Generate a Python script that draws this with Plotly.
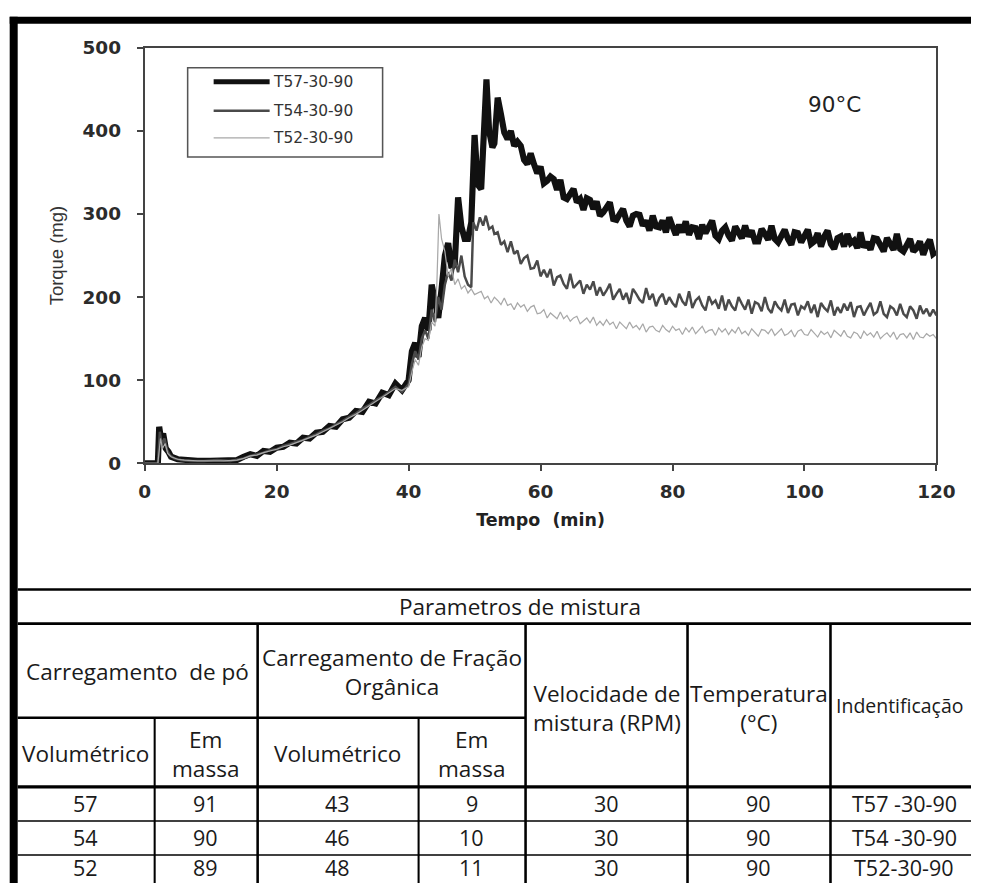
import numpy as np
import plotly.graph_objects as go

# Target picture is 981x886. The page body keeps the browser's default 8px margin and the
# captured picture comes out at ~0.975 of page pixels (with a small shift), so positions given
# below in picture pixels are converted to figure fractions with that in mind.
PIC_W, PIC_H = 981, 886
SC = 0.975
K = 1 / SC
BX, BY = -2.5, 3.5
OFF = 8
W = int(round(PIC_W * K)) - 2 * OFF
H = int(round(PIC_H * K)) - 2 * OFF


def px(x):
    return ((x - BX) * K - OFF) / W


def py(y):
    return 1 - ((y - BY) * K - OFF) / H


def s(v):
    return v * K


# ---------------- chart data (Tempo in min, Torque in mg) ----------------
series_names = ["T57-30-90", "T54-30-90", "T52-30-90"]

t57_early = [0, 1, 2, 2.2, 2.5, 2.8, 3.2, 3.6, 4, 5, 6, 8, 10, 12, 14, 15,
             16, 17, 18, 19, 20, 21, 22, 23, 24, 25, 26, 27, 28, 29, 30, 31, 32, 33, 34, 35, 36, 37, 38, 39, 40,
             40.5, 41, 41.5, 42, 42.5, 43, 43.5, 44, 44.5, 45, 45.5, 46, 46.5, 47, 47.5, 48, 48.5, 49, 49.5, 50,
             50.5, 51, 51.5, 51.8, 52.2, 52.7, 53, 53.5, 54, 54.5, 55]
v57_early = [0, 0, 0, 44, 28, 36, 18, 14, 8, 5, 4, 3, 3, 4, 4, 8,
             11, 9, 15, 14, 19, 20, 25, 24, 31, 30, 37, 38, 45, 44, 53, 55, 63, 62, 74, 72, 85, 82, 96, 88, 100,
             135, 145, 128, 165, 175, 160, 215, 190, 175, 210, 250, 265, 235, 240, 320, 285, 270, 270, 290, 395,
             335, 330, 420, 462, 400, 380, 385, 440, 420, 398, 390]
t57_tail_range = [55.5, 120]
v57_tail = [400, 382, 387, 382, 365, 360, 373, 360, 349, 357, 337, 340, 345, 342, 329, 341, 320, 318, 326, 330,
            314, 318, 305, 319, 317, 306, 315, 298, 302, 308, 314, 294, 293, 300, 306, 292, 285, 298, 300, 299,
            286, 292, 280, 298, 285, 284, 292, 278, 296, 285, 275, 287, 278, 291, 275, 284, 283, 270, 287, 277,
            284, 292, 274, 270, 280, 284, 274, 268, 285, 278, 271, 286, 273, 280, 267, 267, 282, 276, 269, 286,
            270, 266, 276, 281, 270, 263, 278, 277, 266, 272, 281, 264, 267, 277, 261, 273, 280, 264, 258, 271,
            273, 261, 276, 265, 268, 259, 278, 260, 266, 257, 271, 270, 261, 255, 271, 265, 257, 276, 258, 255,
            265, 270, 255, 259, 267, 251, 262, 269, 252, 255]

t54_early = [0, 1, 2, 2.3, 2.6, 3, 3.4, 3.8, 4.5, 5.5, 7, 9, 11, 13, 15,
             16, 17, 18, 19, 20, 21, 22, 23, 24, 25, 26, 27, 28, 29, 30, 31, 32, 33, 34, 35, 36, 37, 38, 39, 40,
             40.5, 41, 41.5, 42, 42.5, 43, 43.5, 44, 44.5, 45, 45.5, 46, 46.5, 47, 47.5, 48, 48.5, 49, 49.5,
             49.8, 50.3, 50.8, 51.3, 51.7, 52.2, 52.7]
v54_early = [0, 0, 0, 38, 22, 30, 16, 10, 6, 4, 3, 3, 4, 3, 6,
             9, 11, 13, 16, 17, 21, 23, 26, 28, 32, 35, 39, 42, 47, 51, 56, 60, 66, 70, 76, 80, 86, 92, 86, 95,
             120, 135, 125, 150, 160, 150, 185, 170, 200, 185, 215, 230, 220, 245, 230, 250, 225, 215, 212,
             290, 280, 296, 286, 298, 282, 285]
t54_tail_range = [53, 120]
v54_tail = [276, 278, 263, 267, 254, 267, 252, 256, 240, 247, 250, 234, 235, 244, 225, 233, 224, 234, 214, 224,
            226, 216, 210, 228, 211, 215, 220, 204, 215, 209, 219, 202, 212, 202, 208, 216, 197, 204, 210, 197,
            205, 192, 210, 204, 197, 193, 211, 197, 204, 189, 199, 204, 191, 200, 193, 188, 204, 195, 190, 207,
            187, 196, 200, 190, 184, 201, 192, 196, 186, 202, 184, 197, 189, 184, 200, 192, 185, 197, 180, 194,
            192, 183, 200, 186, 181, 195, 188, 184, 197, 181, 191, 192, 178, 189, 186, 195, 181, 191, 176, 193,
            187, 183, 196, 178, 188, 181, 192, 184, 194, 176, 188, 189, 178, 186, 193, 179, 182, 195, 180, 176,
            189, 186, 178, 192, 180, 176, 189, 184, 174, 190, 180, 186, 177, 185, 178]

t52_early = [0, 1, 2, 2.4, 2.7, 3.1, 3.5, 4, 5, 6, 8, 10, 12, 14, 15,
             16, 17, 18, 19, 20, 21, 22, 23, 24, 25, 26, 27, 28, 29, 30, 31, 32, 33, 34, 35, 36, 37, 38, 39, 40,
             40.5, 41, 41.5, 42, 42.5, 43, 43.5, 44, 44.3, 44.6, 45, 45.5, 46, 46.5, 47, 47.5, 48, 48.5, 49,
             49.5, 50]
v52_early = [0, 0, 0, 30, 18, 24, 12, 8, 5, 4, 3, 3, 3, 4, 6,
             9, 10, 13, 15, 17, 20, 22, 25, 28, 31, 34, 38, 42, 46, 50, 55, 59, 64, 69, 74, 79, 85, 90, 88, 92,
             110, 125, 118, 140, 150, 148, 170, 165, 220, 300, 270, 255, 225, 235, 215, 222, 210, 214, 205,
             210, 203]
t52_tail_range = [50.5, 120]
v52_tail = [205, 207, 198, 201, 193, 200, 196, 191, 199, 190, 192, 185, 193, 188, 191, 183, 188, 190, 180, 181,
            185, 175, 181, 178, 174, 182, 174, 178, 171, 175, 177, 168, 172, 175, 169, 176, 166, 171, 166, 173,
            167, 170, 162, 170, 166, 162, 170, 163, 166, 161, 168, 158, 164, 165, 160, 158, 166, 161, 158, 165,
            160, 162, 155, 163, 158, 164, 156, 161, 165, 157, 160, 161, 154, 163, 158, 162, 155, 161, 157, 164,
            156, 159, 154, 162, 158, 153, 161, 160, 156, 162, 154, 158, 162, 154, 156, 160, 152, 159, 161, 155,
            154, 161, 156, 152, 159, 155, 158, 151, 160, 157, 153, 160, 153, 151, 158, 156, 150, 159, 154, 157,
            152, 159, 150, 154, 157, 152, 158, 149, 155, 156, 151, 157, 149, 158, 152, 151, 156, 153, 155, 150]

x_ticks = [0, 20, 40, 60, 80, 100, 120]
y_ticks = [0, 100, 200, 300, 400, 500]

# ---------------- table data ----------------
table_title = "Parametros de mistura"
group_po = "Carregamento  de pó"
group_org = "Carregamento de Fração<br>Orgânica"
sub_headers = ["Volumétrico", "Em<br>massa", "Volumétrico", "Em<br>massa"]
head_rpm = "Velocidade de<br>mistura (RPM)"
head_temp = "Temperatura<br>(°C)"
head_id = "Indentificação"
vol_po = [57, 54, 52]
massa_po = [91, 90, 89]
vol_org = [43, 46, 48]
massa_org = [9, 10, 11]
rpm = [30, 30, 30]
temperatura = [90, 90, 90]
identificacao = ["T57 -30-90", "T54 -30-90", "T52-30-90"]


def full_series(t_early, v_early, tail_range, v_tail):
    t_tail = np.linspace(tail_range[0], tail_range[1], len(v_tail))
    return list(t_early) + list(t_tail), list(v_early) + list(v_tail)


t57, v57 = full_series(t57_early, v57_early, t57_tail_range, v57_tail)
t54, v54 = full_series(t54_early, v54_early, t54_tail_range, v54_tail)
t52, v52 = full_series(t52_early, v52_early, t52_tail_range, v52_tail)

styles = [("#111111", 6), ("#4a4a4a", 2.4), ("#a8a8a8", 1.2)]

fig = go.Figure()
for name, (t, v), (col, wd) in zip(series_names, [(t57, v57), (t54, v54), (t52, v52)], styles):
    fig.add_trace(go.Scatter(x=t, y=v, mode="lines", name=name, showlegend=False,
                             line=dict(color=col, width=s(wd))))

axis_font = dict(family="DejaVu Sans, sans-serif", size=s(18), color="#2b2b2b", weight="bold")

fig.update_layout(
    width=W, height=H,
    margin=dict(l=0, r=0, t=0, b=0),
    paper_bgcolor="white", plot_bgcolor="white",
    xaxis=dict(domain=[px(144), px(936)], range=[0, 120], tickvals=x_ticks,
               ticks="outside", ticklen=s(6), tickwidth=s(1.5), tickcolor="#444",
               showline=True, linecolor="#444", linewidth=s(1.5), mirror=True,
               showgrid=False, zeroline=False, tickfont=axis_font, ticklabelstandoff=int(round(s(5))),
               title=dict(text="Tempo  (min)", standoff=s(12),
                          font=dict(family="DejaVu Sans, sans-serif", size=s(17),
                                    color="#222", weight="bold"))),
    yaxis=dict(domain=[py(463), py(48)], range=[0, 500], tickvals=y_ticks,
               ticks="outside", ticklen=s(6), tickwidth=s(1.5), tickcolor="#444",
               showline=True, linecolor="#444", linewidth=s(1.5), mirror=True,
               showgrid=False, zeroline=False, tickfont=axis_font, ticklabelstandoff=int(round(s(12))),
               title=dict(text="Torque (mg)", standoff=s(14),
                          font=dict(family="Liberation Sans Narrow, Liberation Sans, Arial, sans-serif",
                                    size=s(18), color="#333"))),
)

shapes = []
annotations = []

# ---- legend (box + sample lines + labels) ----
shapes.append(dict(type="rect", xref="paper", yref="paper", x0=px(187), x1=px(382), y0=py(157), y1=py(68),
                   line=dict(color="#555", width=s(1.5)), fillcolor="rgba(0,0,0,0)"))
legend_rows = [82, 111, 138]
for name, ly, (col, wd) in zip(series_names, legend_rows, styles):
    shapes.append(dict(type="line", xref="paper", yref="paper", x0=px(213), x1=px(269), y0=py(ly), y1=py(ly),
                       line=dict(color=col, width=s(min(wd, 5)))))
    annotations.append(dict(text=name, xref="paper", yref="paper", x=px(270), y=py(ly), xanchor="left",
                            yanchor="middle", showarrow=False,
                            font=dict(family="DejaVu Sans, sans-serif", size=s(15), color="#333")))

# ---- black frame ----
shapes.append(dict(type="rect", xref="paper", yref="paper", x0=px(9), x1=1, y0=py(24), y1=min(py(17), 1),
                   fillcolor="black", line=dict(width=0), layer="above"))
shapes.append(dict(type="rect", xref="paper", yref="paper", x0=max(px(9), 0), x1=px(17), y0=0,
                   y1=min(py(17), 1), fillcolor="black", line=dict(width=0), layer="above"))


def hline(y, x0, x1, w):
    shapes.append(dict(type="line", xref="paper", yref="paper", x0=px(x0), x1=min(px(x1), 1),
                       y0=py(y), y1=py(y), line=dict(color="black", width=s(w))))


def vline(x, y0, y1, w):
    shapes.append(dict(type="line", xref="paper", yref="paper", x0=px(x), x1=px(x),
                       y0=py(y0), y1=max(py(y1), 0), line=dict(color="black", width=s(w))))


hline(589, 17, 981, 2.5)
hline(623, 17, 981, 2.5)
hline(717, 17, 525, 2.5)
hline(786, 17, 981, 3)
hline(820, 17, 981, 1.5)
hline(854, 17, 981, 1.5)
vline(154, 717, 886, 2)
vline(257, 623, 886, 2.5)
vline(418, 717, 886, 2)
vline(525, 623, 886, 2.5)
vline(687, 623, 886, 2.5)
vline(830, 623, 886, 2.5)

tfont = dict(family="Open Sans, Noto Sans, sans-serif", size=s(22), color="#1a1a1a")
rowfont = dict(family="Open Sans, Noto Sans, sans-serif", size=s(21), color="#1a1a1a")


def txt(text, x, y, anchor="center", font=tfont):
    annotations.append(dict(text=text, xref="paper", yref="paper", x=px(x), y=py(y), xanchor=anchor,
                            yanchor="middle", showarrow=False, font=font, align="center", borderpad=0))


txt(table_title, 519, 606)
txt(group_po, 137, 671)
txt(group_org, 391, 671)
for label, cx in zip(sub_headers, [85, 205, 337, 471]):
    txt(label, cx, 753)
txt(head_rpm, 606, 707)
txt(head_temp, 758, 707)
txt(head_id, 835, 705, anchor="left",
    font=dict(family="Open Sans, Noto Sans, sans-serif", size=s(19), color="#1a1a1a"))

row_y = [803, 837, 866]
col_x = [85, 205, 337, 471, 606, 758, 904]
for i, ry in enumerate(row_y):
    vals = [vol_po[i], massa_po[i], vol_org[i], massa_org[i], rpm[i], temperatura[i], identificacao[i]]
    for val, cx in zip(vals, col_x):
        txt(str(val), cx, ry, font=rowfont)

annotations.append(dict(text="90°C", xref="paper", yref="paper", x=px(834), y=py(105), xanchor="center",
                        yanchor="middle", showarrow=False,
                        font=dict(family="DejaVu Sans, sans-serif", size=s(21), color="#222")))

fig.update_layout(shapes=shapes, annotations=annotations)
fig.write_html("out.html")
